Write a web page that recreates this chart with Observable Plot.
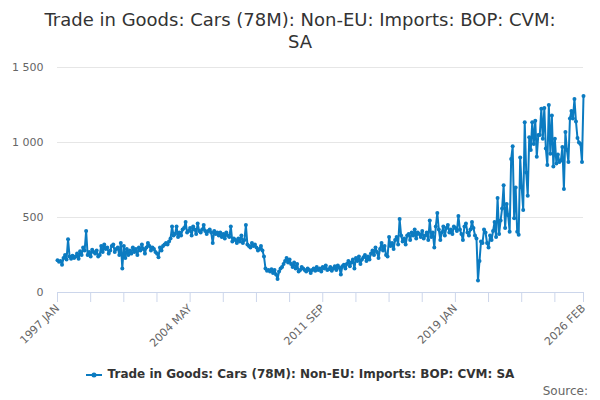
<!DOCTYPE html>
<html>
<head>
<meta charset="utf-8">
<script src="https://cdn.jsdelivr.net/npm/d3@7"></script>
<script src="https://cdn.jsdelivr.net/npm/@observablehq/plot@0.6"></script>
<style>
  body { margin: 0; width: 600px; height: 400px; position: relative; background: #fff;
         font-family: "DejaVu Sans", sans-serif; overflow: hidden; }
  .title { height: 55px; box-sizing: border-box; padding-top: 9px; text-align: center;
           font-size: 18px; line-height: 22px; color: #333; }
  .legend { position: absolute; top: 367px; left: 0; width: 600px; text-align: center;
            font-size: 12px; font-weight: bold; color: #333; }
  .legend svg { vertical-align: middle; margin-right: 5px; }
  .source { position: absolute; top: 384px; right: 12px; font-size: 12px; color: #666; }
</style>
</head>
<body>
<div class="title">Trade in Goods: Cars (78M): Non-EU: Imports: BOP: CVM:<br>SA</div>
<div id="chart"></div>
<div class="legend"><svg width="17" height="10"><line x1="0" y1="5" x2="16" y2="5" stroke="#0b7bc1" stroke-width="2"/><circle cx="8" cy="5" r="2.5" fill="#0b7bc1"/></svg>Trade in Goods: Cars (78M): Non-EU: Imports: BOP: CVM: SA</div>
<div class="source">Source:</div>
<script>
console.log("cars imports chart");

const seriesName = "Trade in Goods: Cars (78M): Non-EU: Imports: BOP: CVM: SA";
const startYear = 1997;
const monthNames = ["JAN","FEB","MAR","APR","MAY","JUN","JUL","AUG","SEP","OCT","NOV","DEC"];

// monthly values, 1997 JAN .. 2026 FEB
const values = [
  215, 205, 210, 185, 230, 250, 220, 355, 240, 225, 245, 230,   // 1997
  240, 260, 225, 275, 250, 300, 280, 410, 250, 270, 240, 285,   // 1998
  270, 260, 280, 240, 250, 310, 270, 320, 290, 300, 260, 280,   // 1999
  310, 320, 270, 290, 300, 250, 330, 160, 310, 230, 290, 250,   // 2000
  280, 260, 300, 270, 290, 250, 300, 280, 320, 290, 260, 300,   // 2001
  330, 310, 280, 300, 290, 270, 260, 235, 300, 280, 310, 320,   // 2002
  330, 320, 340, 360, 440, 380, 390, 440, 370, 400, 380, 420,   // 2003
  430, 470, 400, 410, 430, 380, 440, 420, 390, 460, 410, 400,   // 2004
  420, 450, 410, 390, 410, 420, 400, 330, 410, 390, 400, 380,   // 2005
  400, 370, 390, 360, 400, 380, 370, 440, 340, 360, 350, 330,   // 2006
  360, 340, 380, 330, 350, 450, 320, 310, 300, 330, 310, 320,   // 2007
  300, 280, 290, 310, 280, 240, 160, 145, 150, 140, 155, 130,   // 2008
  150, 120, 90, 140, 160, 170, 190, 210, 230, 200, 220, 190,    // 2009
  170, 200, 160, 190, 140, 150, 170, 160, 150, 140, 160, 150,   // 2010
  130, 150, 160, 145, 170, 150, 160, 140, 170, 160, 180, 150,   // 2011
  155, 170, 145, 160, 175, 150, 180, 165, 120, 175, 185, 160,   // 2012
  190, 210, 175, 200, 220, 160, 230, 210, 240, 190, 220, 235,   // 2013
  250, 210, 240, 220, 260, 280, 250, 300, 270, 230, 290, 330,   // 2014
  280, 310, 250, 240, 370, 310, 330, 290, 350, 370, 320, 490,   // 2015
  380, 340, 360, 320, 380, 390, 350, 400, 380, 420, 360, 400,   // 2016
  390, 370, 410, 360, 380, 400, 350, 480, 370, 400, 300, 440,   // 2017
  530, 420, 350, 400, 440, 380, 430, 450, 400, 420, 390, 440,   // 2018
  430, 410, 510, 420, 390, 350, 440, 460, 400, 380, 420, 470,   // 2019
  430, 380, 360, 80, 210, 340, 330, 420, 400, 330, 300, 380,    // 2020
  350, 410, 470, 370, 630, 390, 480, 560, 715, 430, 590, 515,   // 2021
  405, 890, 975, 495, 700, 405, 385, 900, 700, 550, 1135, 800,  // 2022
  645, 1035, 950, 1135, 990, 1145, 905, 1050, 1050, 1225, 1025, 1230, // 2023
  960, 850, 1250, 925, 1180, 840, 1025, 860, 920, 870, 880, 970,     // 2024
  690, 1070, 950, 870, 1160, 1210, 1160, 1290, 1140, 1030, 1000, 990, // 2025
  870, 1310                                                      // 2026
];

const yTicks = [0, 500, 1000, 1500];
const xTicks = [0, 22, 44, 66, 88, 110, 132, 154, 176, 198, 220, 242, 264, 286, 308, 330, 349];
const xLabels = [0, 88, 176, 264, 349];

const monthLabel = i => `${startYear + Math.floor(i / 12)} ${monthNames[i % 12]}`;
const data = values.map((v, i) => ({i, v}));
const blue = "#0b7bc1";

document.querySelector("#chart").append(
  Plot.plot({
    width: 600,
    height: 295,
    marginLeft: 57,
    marginRight: 17,
    marginTop: 12,
    marginBottom: 58,
    style: {fontFamily: "DejaVu Sans, sans-serif", fontSize: "11px", color: "#666"},
    x: {domain: [0, values.length - 1]},
    y: {domain: [0, 1500]},
    marks: [
      Plot.gridY([500, 1000, 1500], {stroke: "#e6e6e6", strokeOpacity: 1}),
      Plot.axisY({ticks: yTicks, tickSize: 0, tickPadding: 14, label: null,
        tickFormat: d => d3.format(",")(d).replace(",", " "), fill: "#666"}),
      Plot.ruleY([0], {stroke: "#ccd6eb"}),
      Plot.axisX({ticks: xTicks, tickSize: 10, stroke: "#ccd6eb", strokeOpacity: 1, label: null,
        tickRotate: -45, tickPadding: 4, fill: "#666",
        tickFormat: i => xLabels.includes(i) ? monthLabel(i) : ""}),
      Plot.line(data, {x: "i", y: "v", stroke: blue, strokeWidth: 2}),
      Plot.dot(data, {x: "i", y: "v", fill: blue, r: 2})
    ]
  })
);
</script>
</body>
</html>
